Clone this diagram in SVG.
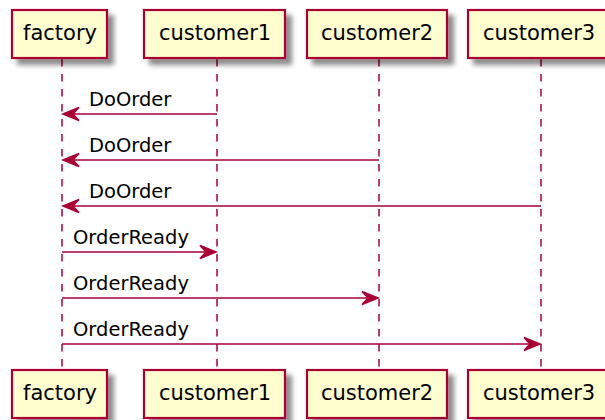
<svg xmlns="http://www.w3.org/2000/svg" width="605" height="420" viewBox="0 0 605 420">
  <defs>
    <filter id="shadow" x="-20%" y="-20%" width="150%" height="160%">
      <feGaussianBlur in="SourceAlpha" stdDeviation="2.5"/>
      <feOffset dx="6" dy="6" result="b"/>
      <feComponentTransfer><feFuncA type="linear" slope="0.45"/></feComponentTransfer>
      <feMerge><feMergeNode/><feMergeNode in="SourceGraphic"/></feMerge>
    </filter>
  </defs>
  <style>
    .box { fill: #FEFECE; stroke: #A80036; stroke-width: 2.2; filter: url(#shadow); }
    .pname { font-family: "DejaVu Sans", sans-serif; font-size: 21px; fill: #000; text-anchor: middle; }
    .life { stroke: #A80036; stroke-width: 1.5; stroke-dasharray: 7.5 7.5; fill: none; }
    .msg { stroke: #A80036; stroke-width: 1.5; fill: none; }
    .head { fill: #A80036; stroke: #A80036; stroke-width: 1.5; stroke-linejoin: miter; }
    .label { font-family: "DejaVu Sans", sans-serif; font-size: 19.5px; fill: #000; }
  </style>

  <!-- lifelines -->
  <g id="lifelines">
    <line class="life" x1="62" y1="59" x2="62" y2="370"/>
    <line class="life" x1="217" y1="59" x2="217" y2="370"/>
    <line class="life" x1="379" y1="59" x2="379" y2="370"/>
    <line class="life" x1="541" y1="59" x2="541" y2="370"/>
  </g>

  <!-- participants (head and foot boxes) -->
  <g id="factory">
    <rect class="box" x="12" y="10" width="95" height="48"/>
    <text class="pname" x="60" y="40">factory</text>
    <rect class="box" x="12" y="370" width="95" height="48"/>
    <text class="pname" x="60" y="400">factory</text>
  </g>
  <g id="customer1">
    <rect class="box" x="144" y="10" width="141" height="48"/>
    <text class="pname" x="215" y="40">customer1</text>
    <rect class="box" x="144" y="370" width="141" height="48"/>
    <text class="pname" x="215" y="400">customer1</text>
  </g>
  <g id="customer2">
    <rect class="box" x="307" y="10" width="140" height="48"/>
    <text class="pname" x="377" y="40">customer2</text>
    <rect class="box" x="307" y="370" width="140" height="48"/>
    <text class="pname" x="377" y="400">customer2</text>
  </g>
  <g id="customer3">
    <rect class="box" x="468" y="10" width="140" height="48"/>
    <text class="pname" x="539" y="40">customer3</text>
    <rect class="box" x="468" y="370" width="140" height="48"/>
    <text class="pname" x="539" y="400">customer3</text>
  </g>

  <!-- messages -->
  <g id="connectors">
    <line class="msg" x1="217" y1="114" x2="64" y2="114"/>
    <polygon class="head" points="63,114 79,107.5 73,114 79,120.5"/>
    <text class="label" x="89" y="106">DoOrder</text>

    <line class="msg" x1="379" y1="160" x2="64" y2="160"/>
    <polygon class="head" points="63,160 79,153.5 73,160 79,166.5"/>
    <text class="label" x="89" y="152">DoOrder</text>

    <line class="msg" x1="541" y1="206" x2="64" y2="206"/>
    <polygon class="head" points="63,206 79,199.5 73,206 79,212.5"/>
    <text class="label" x="89" y="198">DoOrder</text>

    <line class="msg" x1="62" y1="252" x2="214" y2="252"/>
    <polygon class="head" points="216,252 200,245.5 206,252 200,258.5"/>
    <text class="label" x="73" y="244">OrderReady</text>

    <line class="msg" x1="62" y1="298" x2="376" y2="298"/>
    <polygon class="head" points="378,298 362,291.5 368,298 362,304.5"/>
    <text class="label" x="73" y="290">OrderReady</text>

    <line class="msg" x1="62" y1="344" x2="538" y2="344"/>
    <polygon class="head" points="540,344 524,337.5 530,344 524,350.5"/>
    <text class="label" x="73" y="336">OrderReady</text>
  </g>
</svg>
